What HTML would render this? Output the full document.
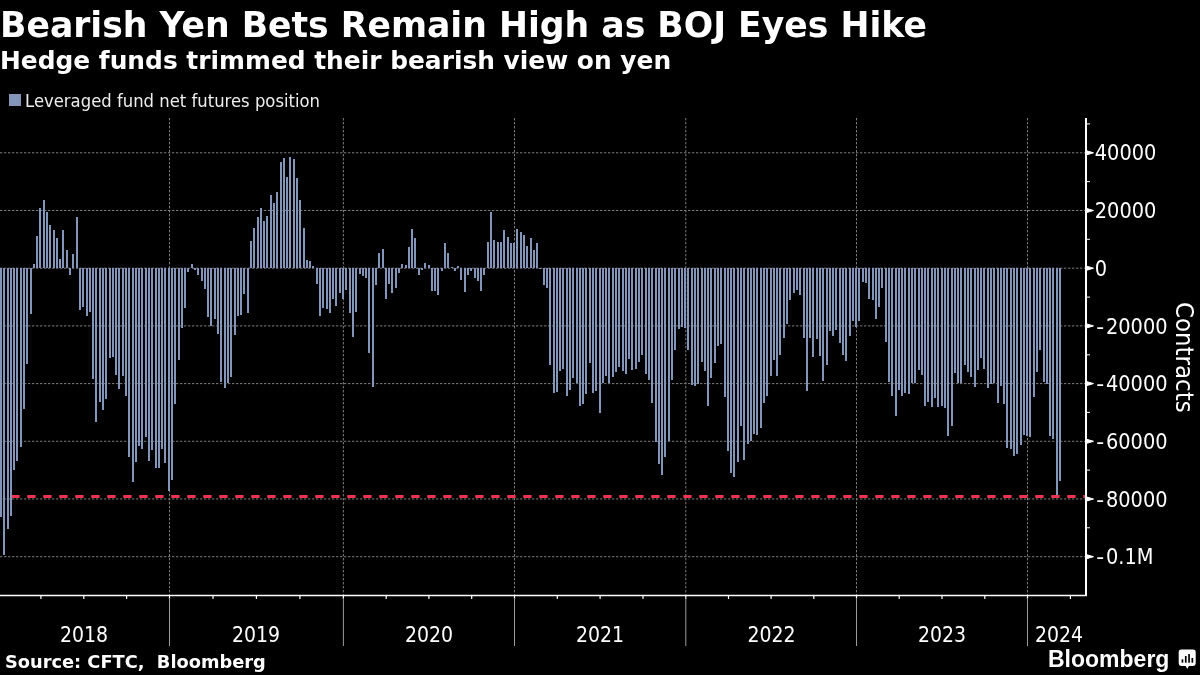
<!DOCTYPE html>
<html><head><meta charset="utf-8"><style>
html,body{margin:0;padding:0;background:#000;}
body{width:1200px;height:675px;overflow:hidden;position:relative;color:#fff;font-family:"DejaVu Sans",sans-serif;}
.t{position:absolute;white-space:pre;line-height:1;}
#title{left:0px;top:7px;font-size:36px;font-weight:bold;transform:scaleX(0.962);transform-origin:0 0;}
#sub{left:0px;top:47.5px;font-size:25.6px;font-weight:bold;transform:scaleX(0.972);transform-origin:0 0;}
#leg{left:25px;top:93px;font-size:17.6px;color:#eee;transform:scaleX(0.935);transform-origin:0 0;}
#legsq{position:absolute;left:9px;top:94px;width:12px;height:12px;background:#8395b8;}
#src{left:5px;top:652.8px;font-size:17.8px;font-weight:bold;}
#bbg{left:1048px;top:647.5px;font-size:23px;font-weight:bold;font-family:"Liberation Sans",sans-serif;}
svg{position:absolute;left:0;top:0;}
</style></head><body>
<svg width="1200" height="675" viewBox="0 0 1200 675">
<g stroke="#7c7c7c" stroke-width="1" stroke-dasharray="2.4 1.6"><line x1="0" y1="152.8" x2="1085" y2="152.8"/><line x1="0" y1="210.5" x2="1085" y2="210.5"/><line x1="0" y1="268.2" x2="1085" y2="268.2"/><line x1="0" y1="325.9" x2="1085" y2="325.9"/><line x1="0" y1="383.6" x2="1085" y2="383.6"/><line x1="0" y1="441.3" x2="1085" y2="441.3"/><line x1="0" y1="499.0" x2="1085" y2="499.0"/><line x1="0" y1="556.7" x2="1085" y2="556.7"/><line x1="169.5" y1="118" x2="169.5" y2="595"/><line x1="343.4" y1="118" x2="343.4" y2="595"/><line x1="514.5" y1="118" x2="514.5" y2="595"/><line x1="685.8" y1="118" x2="685.8" y2="595"/><line x1="856.5" y1="118" x2="856.5" y2="595"/><line x1="1027.5" y1="118" x2="1027.5" y2="595"/></g>
<line x1="11.3" y1="496.5" x2="1085" y2="496.5" stroke="#f2334f" stroke-width="3" stroke-dasharray="8.3 7.7"/>
<g fill="#8395b8" shape-rendering="crispEdges"><rect x="0.00" y="268.2" width="2" height="248.8"/><rect x="3.00" y="268.2" width="2" height="286.3"/><rect x="7.00" y="268.2" width="2" height="260.8"/><rect x="10.00" y="268.2" width="2" height="247.8"/><rect x="13.00" y="268.2" width="2" height="201.8"/><rect x="16.00" y="268.2" width="2" height="192.8"/><rect x="20.00" y="268.2" width="2" height="178.8"/><rect x="23.00" y="268.2" width="2" height="140.8"/><rect x="26.00" y="268.2" width="2" height="95.8"/><rect x="30.00" y="268.2" width="2" height="45.8"/><rect x="33.00" y="264.0" width="2" height="4.2"/><rect x="36.00" y="236.0" width="2" height="32.2"/><rect x="39.00" y="208.0" width="2" height="60.2"/><rect x="43.00" y="200.0" width="2" height="68.2"/><rect x="46.00" y="212.0" width="2" height="56.2"/><rect x="49.00" y="225.0" width="2" height="43.2"/><rect x="53.00" y="230.0" width="2" height="38.2"/><rect x="56.00" y="238.0" width="2" height="30.2"/><rect x="59.00" y="259.0" width="2" height="9.2"/><rect x="62.00" y="230.0" width="2" height="38.2"/><rect x="66.00" y="250.0" width="2" height="18.2"/><rect x="69.00" y="268.2" width="2" height="6.8"/><rect x="72.00" y="254.0" width="2" height="14.2"/><rect x="76.00" y="217.0" width="2" height="51.2"/><rect x="79.00" y="268.2" width="2" height="41.8"/><rect x="82.00" y="268.2" width="2" height="38.8"/><rect x="86.00" y="268.2" width="2" height="47.8"/><rect x="89.00" y="268.2" width="2" height="43.8"/><rect x="92.00" y="268.2" width="2" height="110.8"/><rect x="95.00" y="268.2" width="2" height="153.8"/><rect x="99.00" y="268.2" width="2" height="133.8"/><rect x="102.00" y="268.2" width="2" height="141.8"/><rect x="105.00" y="268.2" width="2" height="130.8"/><rect x="109.00" y="268.2" width="2" height="89.8"/><rect x="112.00" y="268.2" width="2" height="88.8"/><rect x="115.00" y="268.2" width="2" height="106.8"/><rect x="118.00" y="268.2" width="2" height="120.8"/><rect x="122.00" y="268.2" width="2" height="107.8"/><rect x="125.00" y="268.2" width="2" height="127.8"/><rect x="128.00" y="268.2" width="2" height="188.8"/><rect x="132.00" y="268.2" width="2" height="213.8"/><rect x="135.00" y="268.2" width="2" height="193.8"/><rect x="138.00" y="268.2" width="2" height="177.8"/><rect x="141.00" y="268.2" width="2" height="180.8"/><rect x="145.00" y="268.2" width="2" height="168.8"/><rect x="148.00" y="268.2" width="2" height="192.8"/><rect x="151.00" y="268.2" width="2" height="181.8"/><rect x="155.00" y="268.2" width="2" height="199.8"/><rect x="158.00" y="268.2" width="2" height="199.8"/><rect x="161.00" y="268.2" width="2" height="180.8"/><rect x="164.00" y="268.2" width="2" height="194.8"/><rect x="168.00" y="268.2" width="2" height="222.8"/><rect x="171.00" y="268.2" width="2" height="211.8"/><rect x="174.00" y="268.2" width="2" height="135.8"/><rect x="178.00" y="268.2" width="2" height="91.8"/><rect x="181.00" y="268.2" width="2" height="59.8"/><rect x="184.00" y="268.2" width="2" height="39.8"/><rect x="187.00" y="268.2" width="2" height="3.8"/><rect x="191.00" y="264.0" width="2" height="4.2"/><rect x="194.00" y="268.2" width="2" height="1.8"/><rect x="197.00" y="268.2" width="2" height="6.8"/><rect x="201.00" y="268.2" width="2" height="12.8"/><rect x="204.00" y="268.2" width="2" height="20.8"/><rect x="207.00" y="268.2" width="2" height="48.8"/><rect x="210.00" y="268.2" width="2" height="57.3"/><rect x="214.00" y="268.2" width="2" height="50.8"/><rect x="217.00" y="268.2" width="2" height="65.8"/><rect x="220.00" y="268.2" width="2" height="113.8"/><rect x="224.00" y="268.2" width="2" height="119.8"/><rect x="227.00" y="268.2" width="2" height="114.8"/><rect x="230.00" y="268.2" width="2" height="108.8"/><rect x="234.00" y="268.2" width="2" height="66.8"/><rect x="237.00" y="268.2" width="2" height="47.8"/><rect x="240.00" y="268.2" width="2" height="46.8"/><rect x="243.00" y="268.2" width="2" height="25.8"/><rect x="247.00" y="268.2" width="2" height="44.8"/><rect x="250.00" y="241.0" width="2" height="27.2"/><rect x="253.00" y="227.7" width="2" height="40.5"/><rect x="257.00" y="217.0" width="2" height="51.2"/><rect x="260.00" y="208.0" width="2" height="60.2"/><rect x="263.00" y="220.6" width="2" height="47.6"/><rect x="266.00" y="215.9" width="2" height="52.3"/><rect x="270.00" y="194.8" width="2" height="73.4"/><rect x="273.00" y="202.6" width="2" height="65.6"/><rect x="276.00" y="191.8" width="2" height="76.4"/><rect x="280.00" y="161.8" width="2" height="106.4"/><rect x="283.00" y="157.9" width="2" height="110.3"/><rect x="286.00" y="176.8" width="2" height="91.4"/><rect x="289.00" y="156.8" width="2" height="111.4"/><rect x="293.00" y="159.0" width="2" height="109.2"/><rect x="296.00" y="177.9" width="2" height="90.3"/><rect x="299.00" y="199.8" width="2" height="68.4"/><rect x="303.00" y="227.7" width="2" height="40.5"/><rect x="306.00" y="260.0" width="2" height="8.2"/><rect x="309.00" y="261.0" width="2" height="7.2"/><rect x="312.00" y="266.4" width="2" height="1.8"/><rect x="316.00" y="268.2" width="2" height="15.8"/><rect x="319.00" y="268.2" width="2" height="48.0"/><rect x="322.00" y="268.2" width="2" height="39.8"/><rect x="326.00" y="268.2" width="2" height="40.8"/><rect x="329.00" y="268.2" width="2" height="44.6"/><rect x="332.00" y="268.2" width="2" height="30.8"/><rect x="335.00" y="268.2" width="2" height="37.7"/><rect x="339.00" y="268.2" width="2" height="25.2"/><rect x="342.00" y="268.2" width="2" height="31.2"/><rect x="345.00" y="268.2" width="2" height="22.2"/><rect x="349.00" y="268.2" width="2" height="44.6"/><rect x="352.00" y="268.2" width="2" height="68.4"/><rect x="355.00" y="268.2" width="2" height="43.7"/><rect x="359.00" y="268.2" width="2" height="5.9"/><rect x="362.00" y="268.2" width="2" height="8.0"/><rect x="365.00" y="268.2" width="2" height="9.3"/><rect x="368.00" y="268.2" width="2" height="84.5"/><rect x="372.00" y="268.2" width="2" height="118.3"/><rect x="375.00" y="268.2" width="2" height="16.6"/><rect x="378.00" y="253.3" width="2" height="14.9"/><rect x="382.00" y="249.0" width="2" height="19.2"/><rect x="385.00" y="268.2" width="2" height="30.8"/><rect x="388.00" y="268.2" width="2" height="15.8"/><rect x="391.00" y="268.2" width="2" height="24.8"/><rect x="395.00" y="268.2" width="2" height="19.5"/><rect x="398.00" y="268.2" width="2" height="4.4"/><rect x="401.00" y="264.0" width="2" height="4.2"/><rect x="405.00" y="265.0" width="2" height="3.2"/><rect x="408.00" y="246.9" width="2" height="21.3"/><rect x="411.00" y="229.0" width="2" height="39.2"/><rect x="414.00" y="238.3" width="2" height="29.9"/><rect x="418.00" y="268.2" width="2" height="6.6"/><rect x="421.00" y="268.2" width="2" height="1.6"/><rect x="424.00" y="263.0" width="2" height="5.2"/><rect x="428.00" y="265.0" width="2" height="3.2"/><rect x="431.00" y="268.2" width="2" height="22.8"/><rect x="434.00" y="268.2" width="2" height="22.8"/><rect x="437.00" y="268.2" width="2" height="26.6"/><rect x="441.00" y="268.2" width="2" height="2.3"/><rect x="444.00" y="242.6" width="2" height="25.6"/><rect x="447.00" y="253.3" width="2" height="14.9"/><rect x="451.00" y="267.0" width="2" height="1.2"/><rect x="454.00" y="268.2" width="2" height="2.3"/><rect x="457.00" y="266.0" width="2" height="2.2"/><rect x="460.00" y="268.2" width="2" height="11.8"/><rect x="464.00" y="268.2" width="2" height="23.8"/><rect x="467.00" y="268.2" width="2" height="6.6"/><rect x="470.00" y="268.2" width="2" height="2.3"/><rect x="474.00" y="268.2" width="2" height="10.2"/><rect x="477.00" y="268.2" width="2" height="13.0"/><rect x="480.00" y="268.2" width="2" height="22.5"/><rect x="483.00" y="268.2" width="2" height="6.6"/><rect x="487.00" y="241.9" width="2" height="26.3"/><rect x="490.00" y="211.8" width="2" height="56.4"/><rect x="493.00" y="239.7" width="2" height="28.5"/><rect x="497.00" y="241.9" width="2" height="26.3"/><rect x="500.00" y="241.9" width="2" height="26.3"/><rect x="503.00" y="230.0" width="2" height="38.2"/><rect x="507.00" y="237.0" width="2" height="31.2"/><rect x="510.00" y="243.0" width="2" height="25.2"/><rect x="513.00" y="242.5" width="2" height="25.7"/><rect x="516.00" y="229.0" width="2" height="39.2"/><rect x="520.00" y="232.2" width="2" height="36.0"/><rect x="523.00" y="234.8" width="2" height="33.4"/><rect x="526.00" y="245.5" width="2" height="22.7"/><rect x="530.00" y="238.2" width="2" height="30.0"/><rect x="533.00" y="249.8" width="2" height="18.4"/><rect x="536.00" y="243.3" width="2" height="24.9"/><rect x="539.00" y="268.2" width="2" height="0.8"/><rect x="543.00" y="268.2" width="2" height="17.2"/><rect x="546.00" y="268.2" width="2" height="19.4"/><rect x="549.00" y="268.2" width="2" height="96.8"/><rect x="553.00" y="268.2" width="2" height="125.2"/><rect x="556.00" y="268.2" width="2" height="123.7"/><rect x="559.00" y="268.2" width="2" height="103.0"/><rect x="562.00" y="268.2" width="2" height="100.5"/><rect x="566.00" y="268.2" width="2" height="127.3"/><rect x="569.00" y="268.2" width="2" height="121.5"/><rect x="572.00" y="268.2" width="2" height="109.5"/><rect x="576.00" y="268.2" width="2" height="115.1"/><rect x="579.00" y="268.2" width="2" height="137.4"/><rect x="582.00" y="268.2" width="2" height="135.9"/><rect x="585.00" y="268.2" width="2" height="126.2"/><rect x="589.00" y="268.2" width="2" height="94.5"/><rect x="592.00" y="268.2" width="2" height="124.5"/><rect x="595.00" y="268.2" width="2" height="122.4"/><rect x="599.00" y="268.2" width="2" height="144.3"/><rect x="602.00" y="268.2" width="2" height="114.8"/><rect x="605.00" y="268.2" width="2" height="108.1"/><rect x="608.00" y="268.2" width="2" height="115.2"/><rect x="612.00" y="268.2" width="2" height="108.8"/><rect x="615.00" y="268.2" width="2" height="103.4"/><rect x="618.00" y="268.2" width="2" height="98.6"/><rect x="622.00" y="268.2" width="2" height="102.9"/><rect x="625.00" y="268.2" width="2" height="105.5"/><rect x="628.00" y="268.2" width="2" height="90.9"/><rect x="631.00" y="268.2" width="2" height="101.6"/><rect x="635.00" y="268.2" width="2" height="100.8"/><rect x="638.00" y="268.2" width="2" height="93.7"/><rect x="641.00" y="268.2" width="2" height="86.6"/><rect x="645.00" y="268.2" width="2" height="105.5"/><rect x="648.00" y="268.2" width="2" height="111.5"/><rect x="651.00" y="268.2" width="2" height="134.3"/><rect x="655.00" y="268.2" width="2" height="173.3"/><rect x="658.00" y="268.2" width="2" height="196.2"/><rect x="661.00" y="268.2" width="2" height="206.6"/><rect x="664.00" y="268.2" width="2" height="189.0"/><rect x="668.00" y="268.2" width="2" height="173.1"/><rect x="671.00" y="268.2" width="2" height="111.5"/><rect x="674.00" y="268.2" width="2" height="82.1"/><rect x="678.00" y="268.2" width="2" height="60.5"/><rect x="681.00" y="268.2" width="2" height="58.8"/><rect x="684.00" y="268.2" width="2" height="60.1"/><rect x="687.00" y="268.2" width="2" height="82.0"/><rect x="691.00" y="268.2" width="2" height="116.8"/><rect x="694.00" y="268.2" width="2" height="117.3"/><rect x="697.00" y="268.2" width="2" height="115.4"/><rect x="701.00" y="268.2" width="2" height="93.8"/><rect x="704.00" y="268.2" width="2" height="102.3"/><rect x="707.00" y="268.2" width="2" height="137.3"/><rect x="710.00" y="268.2" width="2" height="109.3"/><rect x="714.00" y="268.2" width="2" height="94.6"/><rect x="717.00" y="268.2" width="2" height="77.8"/><rect x="720.00" y="268.2" width="2" height="75.6"/><rect x="724.00" y="268.2" width="2" height="128.5"/><rect x="727.00" y="268.2" width="2" height="182.5"/><rect x="730.00" y="268.2" width="2" height="204.6"/><rect x="733.00" y="268.2" width="2" height="208.9"/><rect x="737.00" y="268.2" width="2" height="193.8"/><rect x="740.00" y="268.2" width="2" height="157.4"/><rect x="743.00" y="268.2" width="2" height="191.5"/><rect x="747.00" y="268.2" width="2" height="176.0"/><rect x="750.00" y="268.2" width="2" height="172.8"/><rect x="753.00" y="268.2" width="2" height="165.5"/><rect x="756.00" y="268.2" width="2" height="166.3"/><rect x="760.00" y="268.2" width="2" height="159.5"/><rect x="763.00" y="268.2" width="2" height="134.8"/><rect x="766.00" y="268.2" width="2" height="127.6"/><rect x="770.00" y="268.2" width="2" height="107.4"/><rect x="773.00" y="268.2" width="2" height="91.8"/><rect x="776.00" y="268.2" width="2" height="107.4"/><rect x="779.00" y="268.2" width="2" height="86.4"/><rect x="783.00" y="268.2" width="2" height="70.2"/><rect x="786.00" y="268.2" width="2" height="56.2"/><rect x="789.00" y="268.2" width="2" height="31.4"/><rect x="793.00" y="268.2" width="2" height="24.6"/><rect x="796.00" y="268.2" width="2" height="21.7"/><rect x="799.00" y="268.2" width="2" height="26.3"/><rect x="803.00" y="268.2" width="2" height="69.3"/><rect x="806.00" y="268.2" width="2" height="122.4"/><rect x="809.00" y="268.2" width="2" height="69.6"/><rect x="812.00" y="268.2" width="2" height="88.5"/><rect x="816.00" y="268.2" width="2" height="70.3"/><rect x="819.00" y="268.2" width="2" height="87.4"/><rect x="822.00" y="268.2" width="2" height="113.0"/><rect x="826.00" y="268.2" width="2" height="96.8"/><rect x="829.00" y="268.2" width="2" height="62.3"/><rect x="832.00" y="268.2" width="2" height="67.3"/><rect x="835.00" y="268.2" width="2" height="61.6"/><rect x="839.00" y="268.2" width="2" height="74.3"/><rect x="842.00" y="268.2" width="2" height="86.4"/><rect x="845.00" y="268.2" width="2" height="92.8"/><rect x="849.00" y="268.2" width="2" height="67.4"/><rect x="852.00" y="268.2" width="2" height="52.6"/><rect x="855.00" y="268.2" width="2" height="58.5"/><rect x="858.00" y="268.2" width="2" height="52.6"/><rect x="862.00" y="268.2" width="2" height="13.5"/><rect x="865.00" y="268.2" width="2" height="14.6"/><rect x="868.00" y="268.2" width="2" height="30.6"/><rect x="872.00" y="268.2" width="2" height="31.3"/><rect x="875.00" y="268.2" width="2" height="50.5"/><rect x="878.00" y="268.2" width="2" height="38.4"/><rect x="881.00" y="268.2" width="2" height="19.4"/><rect x="885.00" y="268.2" width="2" height="73.5"/><rect x="888.00" y="268.2" width="2" height="113.4"/><rect x="891.00" y="268.2" width="2" height="127.6"/><rect x="895.00" y="268.2" width="2" height="147.5"/><rect x="898.00" y="268.2" width="2" height="121.9"/><rect x="901.00" y="268.2" width="2" height="127.6"/><rect x="904.00" y="268.2" width="2" height="124.9"/><rect x="908.00" y="268.2" width="2" height="125.4"/><rect x="911.00" y="268.2" width="2" height="115.1"/><rect x="914.00" y="268.2" width="2" height="115.1"/><rect x="918.00" y="268.2" width="2" height="101.3"/><rect x="921.00" y="268.2" width="2" height="106.6"/><rect x="924.00" y="268.2" width="2" height="137.9"/><rect x="927.00" y="268.2" width="2" height="133.8"/><rect x="931.00" y="268.2" width="2" height="138.6"/><rect x="934.00" y="268.2" width="2" height="130.2"/><rect x="937.00" y="268.2" width="2" height="139.1"/><rect x="941.00" y="268.2" width="2" height="137.9"/><rect x="944.00" y="268.2" width="2" height="140.2"/><rect x="947.00" y="268.2" width="2" height="167.6"/><rect x="951.00" y="268.2" width="2" height="157.8"/><rect x="954.00" y="268.2" width="2" height="104.5"/><rect x="957.00" y="268.2" width="2" height="115.1"/><rect x="960.00" y="268.2" width="2" height="115.1"/><rect x="964.00" y="268.2" width="2" height="96.5"/><rect x="967.00" y="268.2" width="2" height="103.6"/><rect x="970.00" y="268.2" width="2" height="108.4"/><rect x="974.00" y="268.2" width="2" height="118.3"/><rect x="977.00" y="268.2" width="2" height="101.3"/><rect x="980.00" y="268.2" width="2" height="89.4"/><rect x="983.00" y="268.2" width="2" height="100.6"/><rect x="987.00" y="268.2" width="2" height="119.6"/><rect x="990.00" y="268.2" width="2" height="116.0"/><rect x="993.00" y="268.2" width="2" height="115.1"/><rect x="997.00" y="268.2" width="2" height="134.3"/><rect x="1000.00" y="268.2" width="2" height="117.4"/><rect x="1003.00" y="268.2" width="2" height="135.5"/><rect x="1006.00" y="268.2" width="2" height="180.1"/><rect x="1010.00" y="268.2" width="2" height="181.1"/><rect x="1013.00" y="268.2" width="2" height="187.3"/><rect x="1016.00" y="268.2" width="2" height="185.9"/><rect x="1020.00" y="268.2" width="2" height="176.9"/><rect x="1023.00" y="268.2" width="2" height="166.6"/><rect x="1026.00" y="268.2" width="2" height="167.6"/><rect x="1029.00" y="268.2" width="2" height="168.4"/><rect x="1033.00" y="268.2" width="2" height="129.2"/><rect x="1036.00" y="268.2" width="2" height="103.3"/><rect x="1039.00" y="268.2" width="2" height="81.5"/><rect x="1043.00" y="268.2" width="2" height="113.7"/><rect x="1046.00" y="268.2" width="2" height="115.3"/><rect x="1049.00" y="268.2" width="2" height="167.5"/><rect x="1052.00" y="268.2" width="2" height="170.6"/><rect x="1056.00" y="268.2" width="2" height="226.7"/><rect x="1059.00" y="268.2" width="2" height="212.5"/></g>
<g stroke="#fff" stroke-width="2"><line x1="1086" y1="118" x2="1086" y2="596"/><line x1="0" y1="595.5" x2="1087" y2="595.5" stroke-width="1.5"/></g>
<g stroke="#fff" stroke-width="1.2"><line x1="40.9" y1="595" x2="40.9" y2="599"/><line x1="83.8" y1="595" x2="83.8" y2="599"/><line x1="126.6" y1="595" x2="126.6" y2="599"/><line x1="213.0" y1="595" x2="213.0" y2="599"/><line x1="256.4" y1="595" x2="256.4" y2="599"/><line x1="299.9" y1="595" x2="299.9" y2="599"/><line x1="386.2" y1="595" x2="386.2" y2="599"/><line x1="428.9" y1="595" x2="428.9" y2="599"/><line x1="471.7" y1="595" x2="471.7" y2="599"/><line x1="557.3" y1="595" x2="557.3" y2="599"/><line x1="600.1" y1="595" x2="600.1" y2="599"/><line x1="643.0" y1="595" x2="643.0" y2="599"/><line x1="728.5" y1="595" x2="728.5" y2="599"/><line x1="771.1" y1="595" x2="771.1" y2="599"/><line x1="813.8" y1="595" x2="813.8" y2="599"/><line x1="899.2" y1="595" x2="899.2" y2="599"/><line x1="942.0" y1="595" x2="942.0" y2="599"/><line x1="984.8" y1="595" x2="984.8" y2="599"/><line x1="1070.4" y1="595" x2="1070.4" y2="599"/><line x1="169.5" y1="595" x2="169.5" y2="599"/><line x1="343.4" y1="595" x2="343.4" y2="599"/><line x1="514.5" y1="595" x2="514.5" y2="599"/><line x1="685.8" y1="595" x2="685.8" y2="599"/><line x1="856.5" y1="595" x2="856.5" y2="599"/><line x1="1027.5" y1="595" x2="1027.5" y2="599"/></g>
<g stroke="#9a9a9a" stroke-width="1"><line x1="169.5" y1="598" x2="169.5" y2="646"/><line x1="343.4" y1="598" x2="343.4" y2="646"/><line x1="514.5" y1="598" x2="514.5" y2="646"/><line x1="685.8" y1="598" x2="685.8" y2="646"/><line x1="856.5" y1="598" x2="856.5" y2="646"/><line x1="1027.5" y1="598" x2="1027.5" y2="646"/></g>
<g fill="#fff" stroke="#fff" stroke-width="1"><line x1="1086" y1="123.9" x2="1090" y2="123.9"/><polygon points="1086,150.6 1093.5,152.8 1086,155.0"/><line x1="1086" y1="181.6" x2="1090" y2="181.6"/><polygon points="1086,208.3 1093.5,210.5 1086,212.7"/><line x1="1086" y1="239.3" x2="1090" y2="239.3"/><polygon points="1086,266.0 1093.5,268.2 1086,270.4"/><line x1="1086" y1="297.1" x2="1090" y2="297.1"/><polygon points="1086,323.7 1093.5,325.9 1086,328.1"/><line x1="1086" y1="354.8" x2="1090" y2="354.8"/><polygon points="1086,381.4 1093.5,383.6 1086,385.8"/><line x1="1086" y1="412.4" x2="1090" y2="412.4"/><polygon points="1086,439.1 1093.5,441.3 1086,443.5"/><line x1="1086" y1="470.1" x2="1090" y2="470.1"/><polygon points="1086,496.8 1093.5,499.0 1086,501.2"/><line x1="1086" y1="527.8" x2="1090" y2="527.8"/><polygon points="1086,554.5 1093.5,556.7 1086,558.9"/></g>
<g fill="#fff" font-family="DejaVu Sans, sans-serif" font-stretch="condensed" font-size="21"><text x="1094.8" y="160.4" font-size="21.5">40000</text><text x="1094.8" y="218.1" font-size="21.5">20000</text><text x="1094.8" y="275.8" font-size="21.5">0</text><text x="1096.3" y="333.5"><tspan font-stretch="normal" font-size="22">-</tspan><tspan x="1106" font-size="21.5">20000</tspan></text><text x="1096.3" y="391.2"><tspan font-stretch="normal" font-size="22">-</tspan><tspan x="1106" font-size="21.5">40000</tspan></text><text x="1096.3" y="448.9"><tspan font-stretch="normal" font-size="22">-</tspan><tspan x="1106" font-size="21.5">60000</tspan></text><text x="1096.3" y="506.6"><tspan font-stretch="normal" font-size="22">-</tspan><tspan x="1106" font-size="21.5">80000</tspan></text><text x="1096.3" y="564.3"><tspan font-stretch="normal" font-size="22">-</tspan><tspan x="1106" font-size="21.5">0.1M</tspan></text></g>
<g fill="#fff" font-family="DejaVu Sans, sans-serif" font-stretch="condensed" font-size="21"><text x="84" y="641.5" text-anchor="middle">2018</text><text x="256" y="641.5" text-anchor="middle">2019</text><text x="429" y="641.5" text-anchor="middle">2020</text><text x="600" y="641.5" text-anchor="middle">2021</text><text x="771.5" y="641.5" text-anchor="middle">2022</text><text x="942" y="641.5" text-anchor="middle">2023</text><text x="1059" y="641.5" text-anchor="middle">2024</text></g>
<text transform="translate(1176,302) rotate(90)" fill="#fff" font-family="DejaVu Sans, sans-serif" font-stretch="condensed" font-size="25.5">Contracts</text>
<g transform="translate(1178.7,649.6)">
<path d="M2.5 0 H14.5 A2.5 2.5 0 0 1 17 2.5 V14 A2.5 2.5 0 0 1 14.5 16.4 H10.2 L8.6 19.4 L7 16.4 H2.5 A2.5 2.5 0 0 1 0 14 V2.5 A2.5 2.5 0 0 1 2.5 0 Z" fill="#fff"/>
<g fill="#000"><rect x="2.9" y="9.7" width="1.7" height="3.4"/><rect x="6.2" y="6.4" width="1.7" height="6.7"/><rect x="9.5" y="4.4" width="1.7" height="8.7"/><rect x="12.8" y="8.4" width="1.7" height="4.7"/></g>
</g>
</svg>
<div class="t" id="title">Bearish Yen Bets Remain High as BOJ Eyes Hike</div>
<div class="t" id="sub">Hedge funds trimmed their bearish view on yen</div>
<div id="legsq"></div><div class="t" id="leg">Leveraged fund net futures position</div>
<div class="t" id="src">Source: CFTC,  Bloomberg</div>
<div class="t" id="bbg">Bloomberg</div>
</body></html>
